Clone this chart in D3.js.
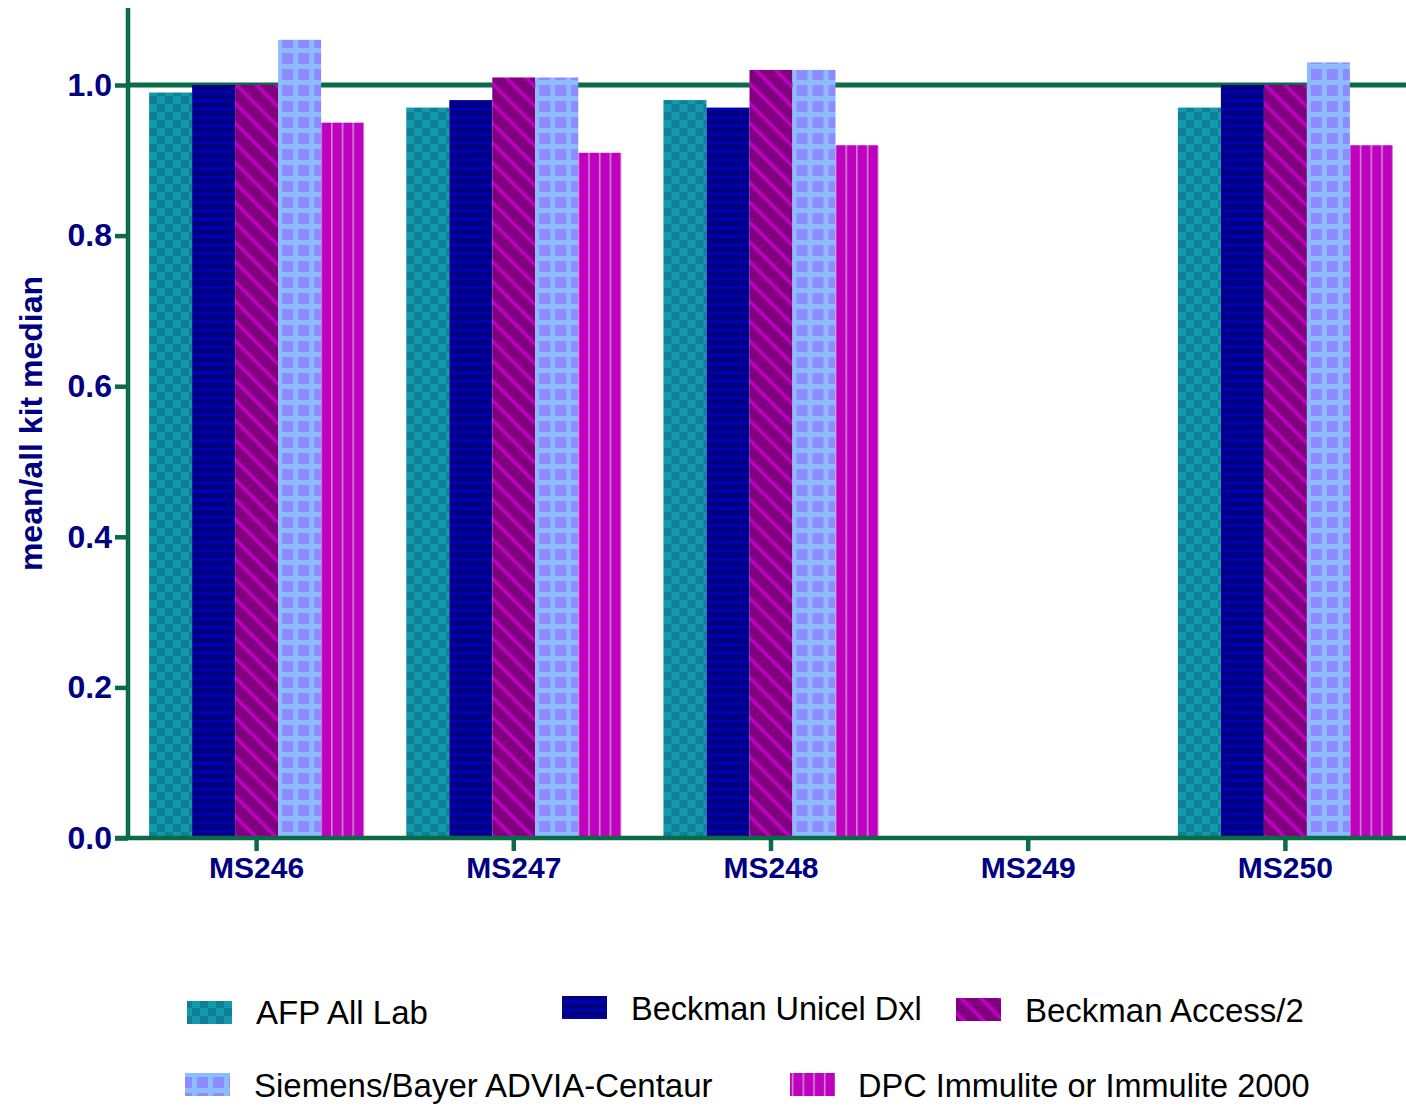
<!DOCTYPE html>
<html>
<head>
<meta charset="utf-8">
<script src="https://cdn.jsdelivr.net/npm/d3@7"></script>
<style>
  html, body { margin: 0; padding: 0; background: #fff; }
  svg { display: block; font-family: "Liberation Sans", Arial, sans-serif; }
</style>
</head>
<body>
<svg id="chart" width="1406" height="1107"></svg>
<script>
// ---- data ----
const categories = ["MS246", "MS247", "MS248", "MS249", "MS250"];
const seriesNames = ["AFP All Lab", "Beckman Unicel Dxl", "Beckman Access/2", "Siemens/Bayer ADVIA-Centaur", "DPC Immulite or Immulite 2000"];
const afpAllLab   = [0.99, 0.97, 0.98, null, 0.97];
const beckmanDxl  = [1.00, 0.98, 0.97, null, 1.00];
const beckmanAcc  = [1.00, 1.01, 1.02, null, 1.00];
const siemens     = [1.06, 1.01, 1.02, null, 1.03];
const dpc         = [0.95, 0.91, 0.92, null, 0.92];
const yTicks = [0.0, 0.2, 0.4, 0.6, 0.8, 1.0];
const yTitle = "mean/all kit median";
const referenceValue = 1.0;

const seriesValues = [afpAllLab, beckmanDxl, beckmanAcc, siemens, dpc];

// ---- layout ----
const svg = d3.select("#chart");
const axisColor = "#0b6a47";
const labelColor = "#000080";
const plotLeft = 128, plotRight = 1414, plotBottom = 838;

const y = d3.scaleLinear().domain([0, 1.1]).range([plotBottom, plotBottom - 753 * 1.1]);
const x0 = d3.scaleBand().domain(categories).range([plotLeft, plotRight])
  .paddingInner(0.164).paddingOuter(0.082);
const x1 = d3.scaleBand().domain(seriesNames).range([0, x0.bandwidth()]).padding(0);

// ---- patterns ----
const defs = svg.append("defs");
// checker (AFP)
let p = defs.append("pattern").attr("id", "pat0").attr("patternUnits", "userSpaceOnUse")
  .attr("width", 16).attr("height", 16);
p.append("rect").attr("width", 16).attr("height", 16).attr("fill", "#1399ad");
p.append("rect").attr("width", 8).attr("height", 8).attr("fill", "#0e7f94");
p.append("rect").attr("x", 8).attr("y", 8).attr("width", 8).attr("height", 8).attr("fill", "#0e7f94");
// horizontal lines (Dxl)
p = defs.append("pattern").attr("id", "pat1").attr("patternUnits", "userSpaceOnUse")
  .attr("width", 8).attr("height", 8.5);
p.append("rect").attr("width", 8).attr("height", 8.5).attr("fill", "#000080");
p.append("rect").attr("y", 6).attr("width", 8).attr("height", 2).attr("fill", "#0000cc");
// diagonal (Access) - stripes running top-left to bottom-right
p = defs.append("pattern").attr("id", "pat2").attr("patternUnits", "userSpaceOnUse")
  .attr("width", 14).attr("height", 14).attr("patternTransform", "rotate(-45)");
p.append("rect").attr("width", 14).attr("height", 14).attr("fill", "#800080");
p.append("rect").attr("x", 0).attr("width", 3.6).attr("height", 14).attr("fill", "#c000c0");
// grid (Siemens)
p = defs.append("pattern").attr("id", "pat3").attr("patternUnits", "userSpaceOnUse")
  .attr("width", 16).attr("height", 16);
p.append("rect").attr("width", 16).attr("height", 16).attr("fill", "#8c8cff");
p.append("rect").attr("x", 0).attr("width", 5).attr("height", 16).attr("fill", "#8cbcff");
p.append("rect").attr("y", 0).attr("width", 16).attr("height", 5).attr("fill", "#8cbcff");
// vertical lines (DPC)
p = defs.append("pattern").attr("id", "pat4").attr("patternUnits", "userSpaceOnUse")
  .attr("width", 10.7).attr("height", 10);
p.append("rect").attr("width", 10.7).attr("height", 10).attr("fill", "#c000c0");
p.append("rect").attr("x", 0).attr("width", 1.6).attr("height", 10).attr("fill", "#c88ac8");

const fills = seriesNames.map((d, i) => `url(#pat${i})`);

// ---- reference line at 1.0 ----
svg.append("line")
  .attr("x1", plotLeft).attr("x2", 1406)
  .attr("y1", y(referenceValue)).attr("y2", y(referenceValue))
  .attr("stroke", axisColor).attr("stroke-width", 5);

// ---- bars ----
const groups = svg.append("g").selectAll("g")
  .data(categories).join("g")
  .attr("transform", d => `translate(${x0(d)},0)`);

groups.selectAll("rect")
  .data((c, ci) => seriesNames.map((s, si) => ({ s, si, v: seriesValues[si][ci] })).filter(d => d.v != null))
  .join("rect")
  .attr("x", d => x1(d.s))
  .attr("width", x1.bandwidth())
  .attr("y", d => y(d.v))
  .attr("height", d => y(0) - y(d.v))
  .attr("fill", d => fills[d.si]);

// ---- axes ----
const yAxis = svg.append("g").attr("transform", `translate(${plotLeft},0)`)
  .call(d3.axisLeft(y).tickValues(yTicks).tickFormat(d3.format(".1f")).tickSize(13).tickPadding(3));
yAxis.select(".domain").remove();
yAxis.append("line").attr("x1", 0).attr("x2", 0).attr("y1", 8).attr("y2", plotBottom + 2)
  .attr("stroke", axisColor).attr("stroke-width", 4.5);
yAxis.selectAll(".tick line").attr("stroke", axisColor).attr("stroke-width", 4.5);
yAxis.selectAll(".tick text").attr("fill", labelColor)
  .attr("font-size", 32).attr("font-weight", "bold")
  .attr("font-family", "'Liberation Sans', Arial, sans-serif");

const xAxis = svg.append("g").attr("transform", `translate(0,${plotBottom})`)
  .call(d3.axisBottom(x0).tickSize(13).tickPadding(6));
xAxis.select(".domain").remove();
xAxis.append("line").attr("x1", 115).attr("x2", 1406).attr("y1", 0).attr("y2", 0)
  .attr("stroke", axisColor).attr("stroke-width", 4.5);
xAxis.selectAll(".tick line").attr("stroke", axisColor).attr("stroke-width", 4.5);
xAxis.selectAll(".tick text").attr("fill", labelColor)
  .attr("font-size", 30).attr("font-weight", "bold")
  .attr("font-family", "'Liberation Sans', Arial, sans-serif");

// y title
svg.append("text")
  .attr("transform", `translate(42, ${(275 + 572) / 2}) rotate(-90)`)
  .attr("text-anchor", "middle")
  .attr("fill", labelColor).attr("font-size", 32).attr("font-weight", "bold")
  .text(yTitle);

// ---- legend ----
const legendItems = [
  { i: 0, sx: 187, sy: 1001, tx: 256, ty: 1024, fs: 33 },
  { i: 1, sx: 562, sy: 996,  tx: 631, ty: 1020, fs: 32.5 },
  { i: 2, sx: 956, sy: 998,  tx: 1025, ty: 1022, fs: 33 },
  { i: 3, sx: 185, sy: 1073, tx: 254, ty: 1097, fs: 33 },
  { i: 4, sx: 790, sy: 1073, tx: 858, ty: 1097, fs: 32.5 }
];
const leg = svg.append("g");
legendItems.forEach(d => {
  leg.append("rect").attr("x", d.sx).attr("y", d.sy).attr("width", 45).attr("height", 23)
    .attr("fill", fills[d.i]);
  leg.append("text").attr("x", d.tx).attr("y", d.ty)
    .attr("font-size", d.fs).attr("fill", "#000")
    .text(seriesNames[d.i]);
});
</script>
</body>
</html>
